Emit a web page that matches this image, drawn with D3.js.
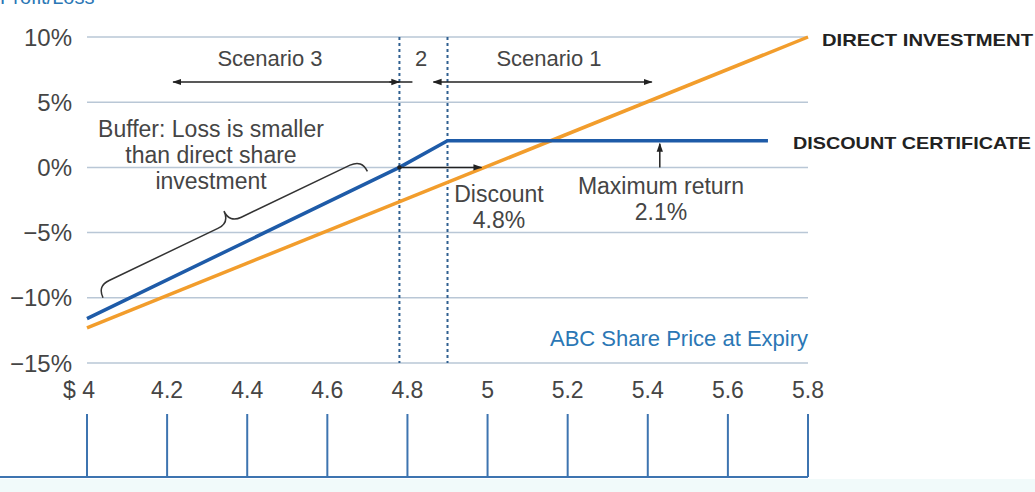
<!DOCTYPE html>
<html>
<head>
<meta charset="utf-8">
<style>
  body { margin: 0; background: #fff; }
  svg { display: block; font-family: "Liberation Sans", Arial, sans-serif; }
</style>
</head>
<body>
<svg id="chart" width="1035" height="492"></svg>
<script src="https://d3js.org/d3.v7.min.js"></script>
<script>

// values
var priceTicks = [4, 4.2, 4.4, 4.6, 4.8, 5, 5.2, 5.4, 5.6, 5.8];
var pctTicks = [10, 5, 0, -5, -10, -15];
var directPrice = [4, 5.8];
var directPL = [-12.3, 10];
var certPrice = [4, 4.78, 4.9, 5.7];
var certPL = [-11.6, 0, 2.05, 2.05];
var barriers = [4.78, 4.9];

var svg = d3.select("#chart");

var x = d3.scaleLinear().domain([4, 5.8]).range([87, 808]);
var y = d3.scaleLinear().domain([-15, 10]).range([363, 37]);

var grey = "#454545";

// arrow heads
var defs = svg.append("defs");
defs.append("marker")
    .attr("id", "arr")
    .attr("viewBox", "0 0 10 10")
    .attr("refX", 9).attr("refY", 5)
    .attr("markerWidth", 9).attr("markerHeight", 9)
    .attr("markerUnits", "userSpaceOnUse")
    .attr("orient", "auto-start-reverse")
  .append("path")
    .attr("d", "M0,1.5 L10,5 L0,8.5 Z")
    .attr("fill", "#222");

// faint strip at the very bottom
svg.append("rect")
    .attr("x", 0).attr("y", 479).attr("width", 1035).attr("height", 13)
    .attr("fill", "#f1fafa");

// gridlines
svg.append("g").selectAll("line")
  .data(pctTicks)
  .enter().append("line")
    .attr("x1", x(4)).attr("x2", x(5.8))
    .attr("y1", function(d) { return y(d); })
    .attr("y2", function(d) { return y(d); })
    .attr("stroke", "#b9c7d6")
    .attr("stroke-width", 1.5);

// y labels
svg.append("g").selectAll("text")
  .data(pctTicks)
  .enter().append("text")
    .attr("x", 72)
    .attr("y", function(d) { return y(d); })
    .attr("dy", "0.36em")
    .attr("text-anchor", "end")
    .attr("font-size", 24)
    .attr("fill", grey)
    .text(function(d) { return (d < 0 ? "\u2212" + (-d) : d) + "%"; });

// x labels
svg.append("g").selectAll("text")
  .data(priceTicks)
  .enter().append("text")
    .attr("x", function(d, i) { return i == 0 ? x(d) + 8 : x(d); })
    .attr("y", 390)
    .attr("dy", "0.36em")
    .attr("text-anchor", function(d, i) { return i == 0 ? "end" : "middle"; })
    .attr("font-size", 23)
    .attr("fill", grey)
    .text(function(d, i) { return i == 0 ? "$ " + d : d; });

// lower axis with long ticks
var axis = svg.append("g").attr("stroke", "#3d74b0").attr("stroke-width", 2);
axis.append("line")
    .attr("x1", 0).attr("x2", x(5.8))
    .attr("y1", 477).attr("y2", 477);
axis.selectAll("line.tick")
  .data(priceTicks)
  .enter().append("line")
    .attr("class", "tick")
    .attr("x1", function(d) { return x(d); })
    .attr("x2", function(d) { return x(d); })
    .attr("y1", 414).attr("y2", 477);

// dotted verticals
svg.append("g").selectAll("line")
  .data(barriers)
  .enter().append("line")
    .attr("x1", function(d) { return x(d); })
    .attr("x2", function(d) { return x(d); })
    .attr("y1", y(10)).attr("y2", y(-15))
    .attr("stroke", "#2f5f90")
    .attr("stroke-width", 2)
    .attr("stroke-dasharray", "3,3");

var line = d3.line()
    .x(function(d) { return x(d[0]); })
    .y(function(d) { return y(d[1]); });

svg.append("path")
    .datum(d3.zip(directPrice, directPL))
    .attr("fill", "none")
    .attr("stroke", "#f29d2c")
    .attr("stroke-width", 3.5)
    .attr("d", line);

svg.append("path")
    .datum(d3.zip(certPrice, certPL))
    .attr("fill", "none")
    .attr("stroke", "#1e5ba8")
    .attr("stroke-width", 3.5)
    .attr("stroke-linejoin", "round")
    .attr("d", line);

// scenario arrows
var ay = 82;
svg.append("line")
    .attr("x1", x(4.78) + 13).attr("x2", x(4.215))
    .attr("y1", ay).attr("y2", ay)
    .attr("stroke", "#222").attr("stroke-width", 1.5)
    .attr("marker-end", "url(#arr)");
svg.append("line")
    .attr("x1", x(4.78) - 10).attr("x2", x(4.78))
    .attr("y1", ay).attr("y2", ay)
    .attr("stroke", "#222").attr("stroke-width", 1.5)
    .attr("marker-end", "url(#arr)");
svg.append("line")
    .attr("x1", x(4.9) - 14).attr("x2", x(5.41))
    .attr("y1", ay).attr("y2", ay)
    .attr("stroke", "#222").attr("stroke-width", 1.5)
    .attr("marker-start", "url(#arr)")
    .attr("marker-end", "url(#arr)");

function label(tx, ty, str, size, color, anchor) {
  return svg.append("text")
      .attr("x", tx).attr("y", ty)
      .attr("dy", "0.36em")
      .attr("text-anchor", anchor || "middle")
      .attr("font-size", size)
      .attr("fill", color || grey)
      .text(str);
}

label(270, 58, "Scenario 3", 22);
label(421, 58, "2", 22);
label(549, 58, "Scenario 1", 22);

label(211, 129, "Buffer: Loss is smaller", 23);
label(211, 155, "than direct share", 23);
label(211, 181, "investment", 23);

// discount arrow
svg.append("circle")
    .attr("cx", x(4.78)).attr("cy", y(0)).attr("r", 2.2).attr("fill", "#222");
svg.append("line")
    .attr("x1", x(4.78)).attr("x2", x(4.985))
    .attr("y1", y(0)).attr("y2", y(0))
    .attr("stroke", "#222").attr("stroke-width", 1.5)
    .attr("marker-end", "url(#arr)");
label(499, 194, "Discount", 23);
label(499, 220, "4.8%", 23);

// max return arrow
svg.append("line")
    .attr("x1", x(5.43)).attr("x2", x(5.43))
    .attr("y1", y(0)).attr("y2", y(2.05) + 3)
    .attr("stroke", "#222").attr("stroke-width", 1.5)
    .attr("marker-end", "url(#arr)");
label(661, 186, "Maximum return", 23);
label(661, 212, "2.1%", 23);

// curly brace between two points, bulging to the left of p1->p2
function brace(x1, y1, x2, y2, r) {
  var dx = x2 - x1, dy = y2 - y1, len = Math.sqrt(dx * dx + dy * dy);
  var ux = dx / len, uy = dy / len;
  var nx = uy, ny = -ux;
  var mx = (x1 + x2) / 2, my = (y1 + y2) / 2;
  function p(bx, by, a, b) { return (bx + ux * a + nx * b) + "," + (by + uy * a + ny * b); }
  return "M" + x1 + "," + y1 +
      " Q" + p(x1, y1, 0, r) + " " + p(x1, y1, r, r) +
      " L" + p(mx, my, -r, r) +
      " Q" + p(mx, my, 0, r) + " " + p(mx, my, 0, 2 * r) +
      " Q" + p(mx, my, 0, r) + " " + p(mx, my, r, r) +
      " L" + p(x2, y2, -r, r) +
      " Q" + p(x2, y2, 0, r) + " " + x2 + "," + y2;
}
svg.append("path")
    .attr("d", brace(x(4.04), y(-10), x(4.7), y(-0.3), 13))
    .attr("fill", "none")
    .attr("stroke", "#333")
    .attr("stroke-width", 1.5);

// axis titles
label(808, 338, "ABC Share Price at Expiry", 22, "#2b77b5", "end");
label(0, -3, "Profit/Loss", 20, "#2b77b5", "start");

// series labels
svg.append("text")
    .attr("x", 822).attr("y", 40).attr("dy", "0.36em")
    .attr("font-size", 17).attr("font-weight", "bold").attr("fill", "#222")
    .attr("textLength", 211).attr("lengthAdjust", "spacingAndGlyphs")
    .text("DIRECT INVESTMENT");
svg.append("text")
    .attr("x", 793).attr("y", 143).attr("dy", "0.36em")
    .attr("font-size", 17).attr("font-weight", "bold").attr("fill", "#222")
    .attr("textLength", 238).attr("lengthAdjust", "spacingAndGlyphs")
    .text("DISCOUNT CERTIFICATE");

</script>
</body>
</html>
